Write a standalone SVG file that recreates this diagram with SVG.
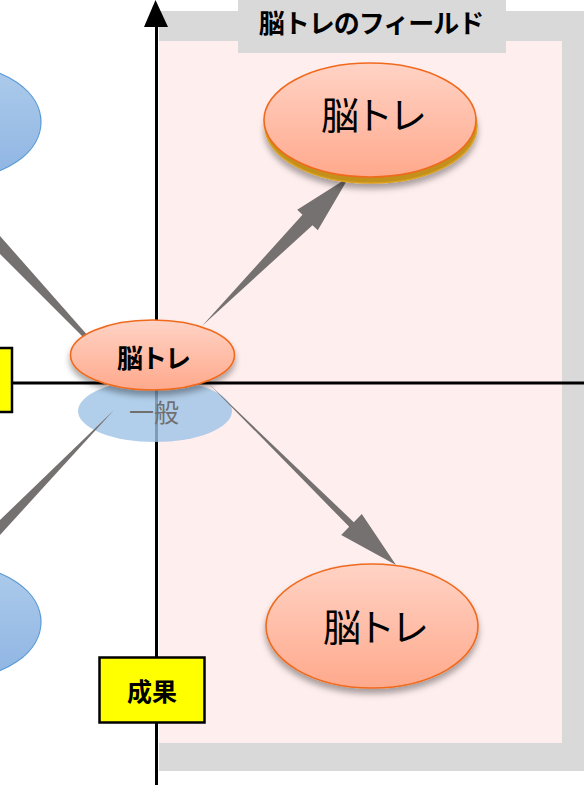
<svg xmlns="http://www.w3.org/2000/svg" width="584" height="785" viewBox="0 0 584 785">
<style>
.jp{font-family:"Noto Sans CJK JP","Noto Sans CJK SC",sans-serif;text-anchor:middle}
.b{font-weight:bold}
.or{fill:url(#og);stroke:#f06a1e;stroke-width:1.6}
.bl{fill:url(#bg);stroke:#5b9bd5;stroke-width:1.2}
.arr{fill:#767171}
.ax{stroke:#000;stroke-width:3;fill:none}
.yb{fill:#ffff00;stroke:#000;stroke-width:2.5}
.big{font-size:38px;letter-spacing:-4px}
</style>
<defs>
<linearGradient id="og" x1="0" y1="0" x2="0" y2="1">
<stop offset="0" stop-color="#ffd3c5"/>
<stop offset="1" stop-color="#ffa98c"/>
</linearGradient>
<linearGradient id="bg" x1="0" y1="0" x2="0" y2="1">
<stop offset="0" stop-color="#adcbeb"/>
<stop offset="1" stop-color="#8fb5e3"/>
</linearGradient>
<filter id="sh" x="-20%" y="-20%" width="140%" height="150%">
<feDropShadow dx="0" dy="5" stdDeviation="3" flood-color="#000" flood-opacity="0.35"/>
</filter>
</defs>
<g id="frame">
<rect x="159" y="11" width="430" height="760" fill="#d9d9d9"/>
<rect x="159" y="41" width="403" height="702" fill="#ffeeee"/>
<rect x="238" y="0" width="268" height="53" fill="#d9d9d9"/>
<text class="jp b" x="371" y="33" font-size="26" letter-spacing="-1">脳トレのフィールド</text>
</g>
<g id="blue-top"><ellipse class="bl" cx="-41" cy="122" rx="82" ry="56"/></g>
<g id="blue-bottom"><ellipse class="bl" cx="-41" cy="622" rx="82" ry="56"/></g>
<g id="axes">
<line class="ax" x1="156.5" y1="785" x2="156.5" y2="24"/>
<polygon points="144,27 168,27 155.5,0" fill="#000"/>
<line class="ax" x1="12" y1="383" x2="584" y2="383"/>
</g>
<g id="label-left"><rect class="yb" x="-3" y="348" width="15" height="64"/></g>
<g id="label-seika">
<rect class="yb" x="99.5" y="657.5" width="105" height="65"/>
<text class="jp b" x="152" y="701" font-size="25">成果</text>
</g>
<g id="connectors">
<polygon class="arr" points="0,236 0,254 134,388"/>
</g>
<g id="ippan">
<ellipse cx="155" cy="411" rx="77" ry="31" fill="#9dc3e6" fill-opacity="0.8"/>
<text class="jp" x="154" y="422" font-size="25" fill="#6f6f6f">一般</text>
</g>
<g id="connectors2">
<polygon class="arr" points="0,520 0,535 114,410"/>
<polygon class="arr" points="202,326 302.5,214.8 297.2,209.8 349,177 317.8,230.2 312.5,225.2"/>
<polygon class="arr" points="208,383 353.8,522.2 361.8,513.9 396,565 341.2,535.1 349.2,526.8"/>
</g>
<g id="center">
<ellipse class="or" cx="152.5" cy="355" rx="82" ry="35" filter="url(#sh)"/>
<text class="jp b" x="153" y="368" font-size="26" letter-spacing="-2">脳トレ</text>
</g>
<g id="top-right">
<ellipse cx="371" cy="126" rx="106" ry="57" fill="#c4901c" stroke="#d9a020" stroke-width="1.5" filter="url(#sh)"/>
<ellipse class="or" cx="370" cy="120" rx="106" ry="57"/>
<text class="jp big" x="372" y="129">脳トレ</text>
</g>
<g id="bottom-right">
<ellipse class="or" cx="372" cy="626" rx="106" ry="62" filter="url(#sh)"/>
<text class="jp big" x="374" y="641">脳トレ</text>
</g>
</svg>
